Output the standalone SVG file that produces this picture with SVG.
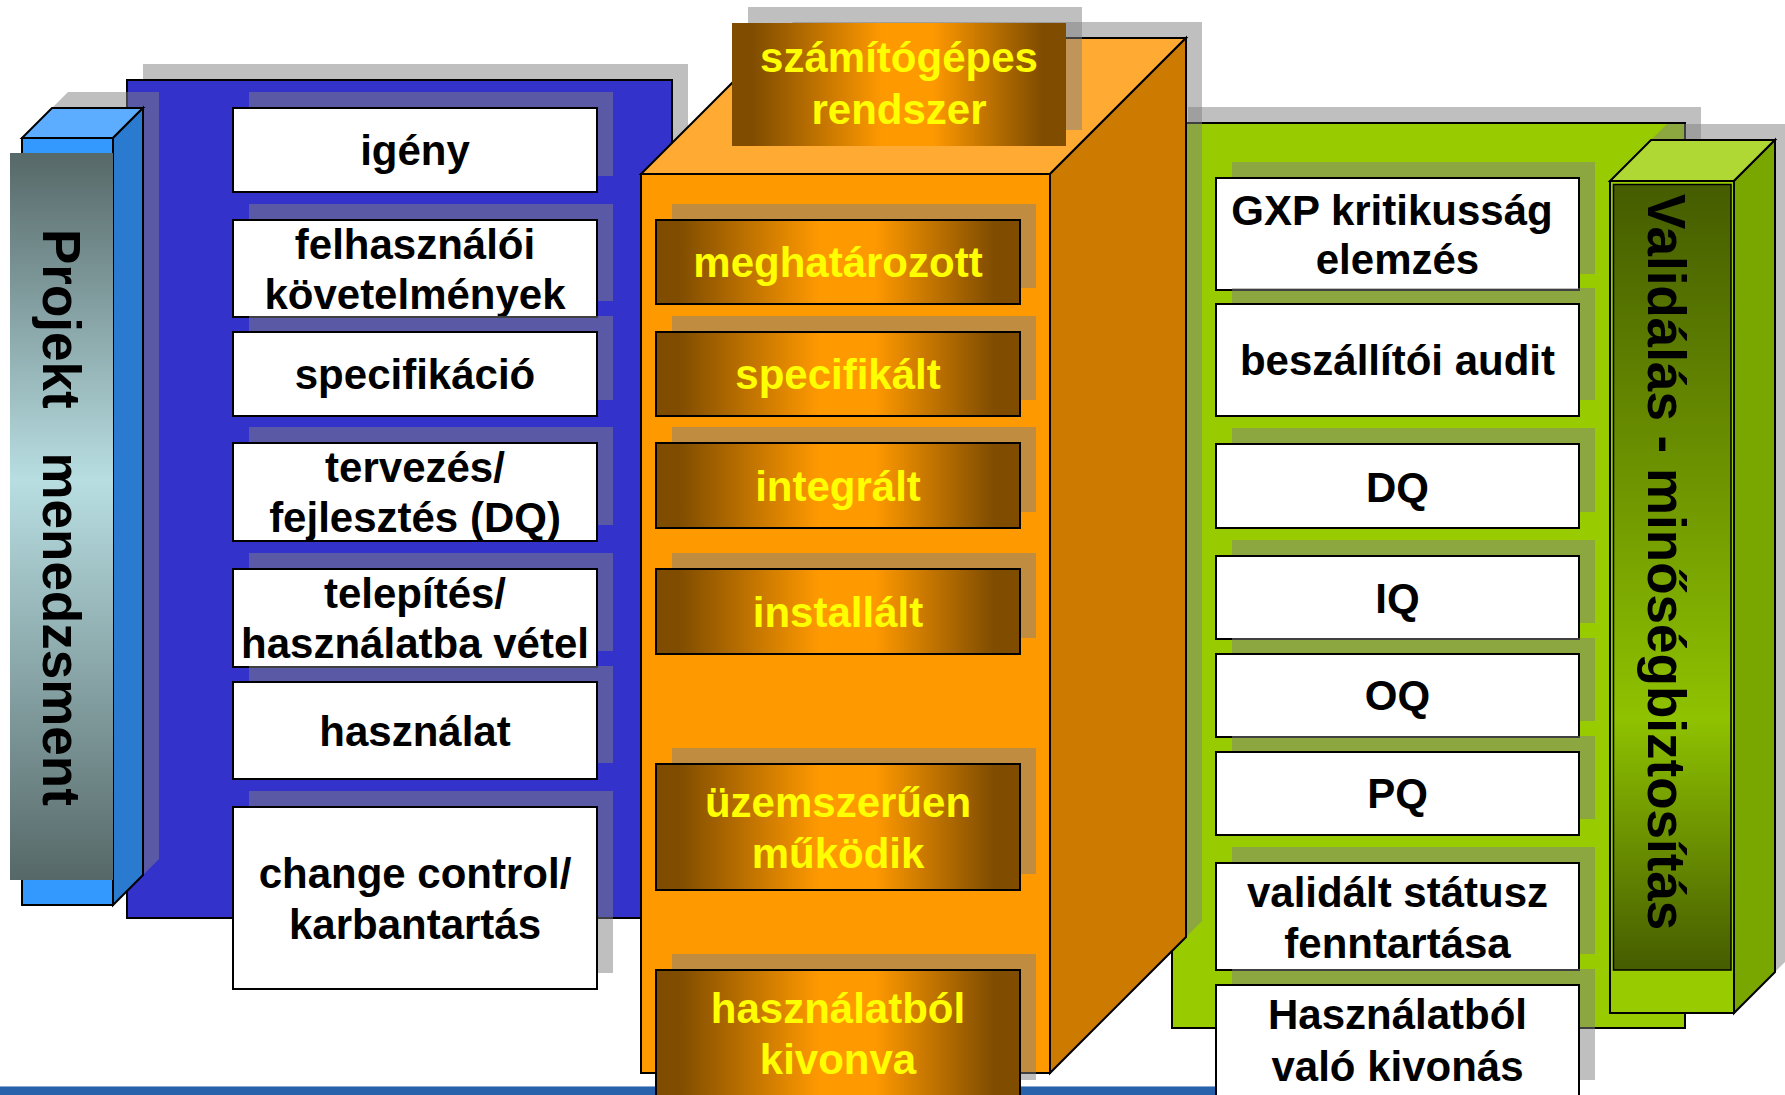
<svg xmlns="http://www.w3.org/2000/svg" width="1785" height="1095" viewBox="0 0 1785 1095">
  <defs>
    <style>
      .t{font-family:"Liberation Sans",Arial,sans-serif;font-weight:bold;font-size:42px;text-anchor:middle}
      .bk{fill:#000}
      .yl{fill:#FFFF00}
      .vt{font-family:"Liberation Sans",Arial,sans-serif;font-weight:bold;font-size:53px;fill:#000}
      .sh{fill:#808080;fill-opacity:.5}
      .box{fill:#fff;stroke:#000;stroke-width:2}
      .brn{fill:url(#brown);stroke:#000;stroke-width:2}
      .ln{stroke:#000;stroke-width:2;stroke-linejoin:miter}
    </style>
    <linearGradient id="brown" x1="0" y1="0" x2="1" y2="0">
      <stop offset="0" stop-color="#7F4C00"/>
      <stop offset="0.06" stop-color="#7F4C00"/>
      <stop offset="0.45" stop-color="#FF9900"/>
      <stop offset="0.6" stop-color="#FF9900"/>
      <stop offset="0.93" stop-color="#7F4C00"/>
      <stop offset="1" stop-color="#7F4C00"/>
    </linearGradient>
    <linearGradient id="slate" x1="0" y1="0" x2="0" y2="1">
      <stop offset="0" stop-color="#566868"/>
      <stop offset="0.45" stop-color="#B8DEE2"/>
      <stop offset="1" stop-color="#566868"/>
    </linearGradient>
    <linearGradient id="olive" x1="0" y1="0" x2="0" y2="1">
      <stop offset="0" stop-color="#455C00"/>
      <stop offset="0.68" stop-color="#8FC200"/>
      <stop offset="1" stop-color="#455C00"/>
    </linearGradient>
  </defs>

  <!-- footer band -->
  <g id="footer">
    <rect x="0" y="1086" width="1580" height="9" fill="#2762AA"/>
    <rect x="0" y="1086" width="1580" height="1" fill="#8AA8D4"/>
  </g>

  <!-- project management panel -->
  <g id="panel-projekt">
    <rect class="sh" x="143" y="64" width="545" height="838"/>
    <rect x="127" y="80" width="545" height="838" fill="#3333CC" class="ln"/>
  </g>

  <g id="bar-projekt">
    <polygon class="sh" points="38,122 68,92 159,92 159,859 129,889 38,889"/>
    <rect x="22" y="138" width="91" height="767" fill="#3399FF" class="ln"/>
    <polygon points="22,138 113,138 143,108 52,108" fill="#5CADFF" class="ln"/>
    <polygon points="113,138 143,108 143,875 113,905" fill="#2A7BD0" class="ln"/>
    <rect x="10" y="153" width="103" height="727" fill="url(#slate)"/>
    <text class="vt" transform="translate(43,229) rotate(90)" word-spacing="29">Projekt menedzsment</text>
  </g>

  <g id="step-igeny">
    <rect class="sh" x="249" y="92" width="364" height="84"/>
    <rect class="box" x="233" y="108" width="364" height="84"/>
    <text class="t bk" x="415" y="165">igény</text>
  </g>
  <g id="step-felhasznaloi">
    <rect class="sh" x="249" y="204" width="364" height="97"/>
    <rect class="box" x="233" y="220" width="364" height="97"/>
    <text class="t bk" x="415" y="259">felhasználói</text>
    <text class="t bk" x="415" y="309">követelmények</text>
  </g>
  <g id="step-specifikacio">
    <rect class="sh" x="249" y="316" width="364" height="84"/>
    <rect class="box" x="233" y="332" width="364" height="84"/>
    <text class="t bk" x="415" y="388.5">specifikáció</text>
  </g>
  <g id="step-tervezes">
    <rect class="sh" x="249" y="427" width="364" height="98"/>
    <rect class="box" x="233" y="443" width="364" height="98"/>
    <text class="t bk" x="415" y="482">tervezés/</text>
    <text class="t bk" x="415" y="532">fejlesztés (DQ)</text>
  </g>
  <g id="step-telepites">
    <rect class="sh" x="249" y="553" width="364" height="98"/>
    <rect class="box" x="233" y="569" width="364" height="98"/>
    <text class="t bk" x="415" y="608">telepítés/</text>
    <text class="t bk" x="415" y="658">használatba vétel</text>
  </g>
  <g id="step-hasznalat">
    <rect class="sh" x="249" y="666" width="364" height="97"/>
    <rect class="box" x="233" y="682" width="364" height="97"/>
    <text class="t bk" x="415" y="745.5">használat</text>
  </g>
  <g id="step-change">
    <rect class="sh" x="249" y="791" width="364" height="182"/>
    <rect class="box" x="233" y="807" width="364" height="182"/>
    <text class="t bk" x="415" y="887.5">change control/</text>
    <text class="t bk" x="415" y="938.5">karbantartás</text>
  </g>

  <!-- validation panel -->
  <g id="panel-validalas">
    <rect class="sh" x="1188" y="107" width="513" height="905"/>
    <rect x="1172" y="123" width="513" height="905" fill="#99CC00" class="ln"/>
  </g>

  <g id="val-gxp">
    <rect class="sh" x="1232" y="162" width="363" height="112"/>
    <rect class="box" x="1216" y="178" width="363" height="112"/>
    <text class="t bk" x="1392" y="225">GXP kritikusság</text>
    <text class="t bk" x="1397.5" y="273.5">elemzés</text>
  </g>
  <g id="val-audit">
    <rect class="sh" x="1232" y="288" width="363" height="112"/>
    <rect class="box" x="1216" y="304" width="363" height="112"/>
    <text class="t bk" x="1397.5" y="375">beszállítói audit</text>
  </g>
  <g id="val-dq">
    <rect class="sh" x="1232" y="428" width="363" height="84"/>
    <rect class="box" x="1216" y="444" width="363" height="84"/>
    <text class="t bk" x="1397.5" y="501.5">DQ</text>
  </g>
  <g id="val-iq">
    <rect class="sh" x="1232" y="540" width="363" height="83"/>
    <rect class="box" x="1216" y="556" width="363" height="83"/>
    <text class="t bk" x="1397.5" y="612.5">IQ</text>
  </g>
  <g id="val-oq">
    <rect class="sh" x="1232" y="638" width="363" height="83"/>
    <rect class="box" x="1216" y="654" width="363" height="83"/>
    <text class="t bk" x="1397.5" y="710">OQ</text>
  </g>
  <g id="val-pq">
    <rect class="sh" x="1232" y="736" width="363" height="83"/>
    <rect class="box" x="1216" y="752" width="363" height="83"/>
    <text class="t bk" x="1397.5" y="808">PQ</text>
  </g>
  <g id="val-status">
    <rect class="sh" x="1232" y="847" width="363" height="107"/>
    <rect class="box" x="1216" y="863" width="363" height="107"/>
    <text class="t bk" x="1397.5" y="906.5">validált státusz</text>
    <text class="t bk" x="1397.5" y="957.5">fenntartása</text>
  </g>
  <g id="val-kivonas">
    <rect class="sh" x="1232" y="969" width="363" height="111"/>
    <rect class="box" x="1216" y="985" width="363" height="112"/>
    <text class="t bk" x="1397.5" y="1029">Használatból</text>
    <text class="t bk" x="1397.5" y="1080.5">való kivonás</text>
  </g>

  <g id="bar-validalas">
    <polygon class="sh" points="1626,165 1667,124 1791,124 1791,956 1750,997 1626,997"/>
    <rect x="1610" y="181" width="124" height="832" fill="#99CC00" class="ln"/>
    <polygon points="1610,181 1734,181 1775,140 1651,140" fill="#B0D835" class="ln"/>
    <polygon points="1734,181 1775,140 1775,972 1734,1013" fill="#7AA600" class="ln"/>
    <rect x="1613.5" y="184.5" width="117.5" height="785.5" fill="url(#olive)" stroke="#000" stroke-width="1.5"/>
    <text class="vt" transform="translate(1648,194) rotate(90)">Validálás - minőségbiztosítás</text>
  </g>

  <!-- computer system block -->
  <g id="block-rendszer">
    <polygon class="sh" points="657,158 793,22 1202,22 1202,921 1066,1057 657,1057"/>
    <rect x="641" y="174" width="409" height="899" fill="#FF9900" class="ln"/>
    <polygon points="641,174 1050,174 1186,38 777,38" fill="#FFAA33" class="ln"/>
    <polygon points="1050,174 1186,38 1186,937 1050,1073" fill="#CC7A00" class="ln"/>
  </g>

  <g id="title-rendszer">
    <rect class="sh" x="748" y="7" width="334" height="123"/>
    <rect x="732" y="23" width="334" height="123" fill="url(#brown)"/>
    <text class="t yl" x="899" y="72">számítógépes</text>
    <text class="t yl" x="899" y="124">rendszer</text>
  </g>

  <g id="state-meghatarozott">
    <rect class="sh" x="672" y="204" width="364" height="84"/>
    <rect class="brn" x="656" y="220" width="364" height="84"/>
    <text class="t yl" x="838" y="277">meghatározott</text>
  </g>
  <g id="state-specifikalt">
    <rect class="sh" x="672" y="316" width="364" height="84"/>
    <rect class="brn" x="656" y="332" width="364" height="84"/>
    <text class="t yl" x="838" y="389">specifikált</text>
  </g>
  <g id="state-integralt">
    <rect class="sh" x="672" y="427" width="364" height="85"/>
    <rect class="brn" x="656" y="443" width="364" height="85"/>
    <text class="t yl" x="838" y="501">integrált</text>
  </g>
  <g id="state-installalt">
    <rect class="sh" x="672" y="553" width="364" height="85"/>
    <rect class="brn" x="656" y="569" width="364" height="85"/>
    <text class="t yl" x="838" y="627">installált</text>
  </g>
  <g id="state-uzem">
    <rect class="sh" x="672" y="748" width="364" height="126"/>
    <rect class="brn" x="656" y="764" width="364" height="126"/>
    <text class="t yl" x="838" y="817">üzemszerűen</text>
    <text class="t yl" x="838" y="868">működik</text>
  </g>
  <g id="state-kivonva">
    <rect class="sh" x="672" y="954" width="364" height="126"/>
    <rect class="brn" x="656" y="970" width="364" height="127"/>
    <text class="t yl" x="838" y="1023">használatból</text>
    <text class="t yl" x="838" y="1074">kivonva</text>
  </g>
</svg>
